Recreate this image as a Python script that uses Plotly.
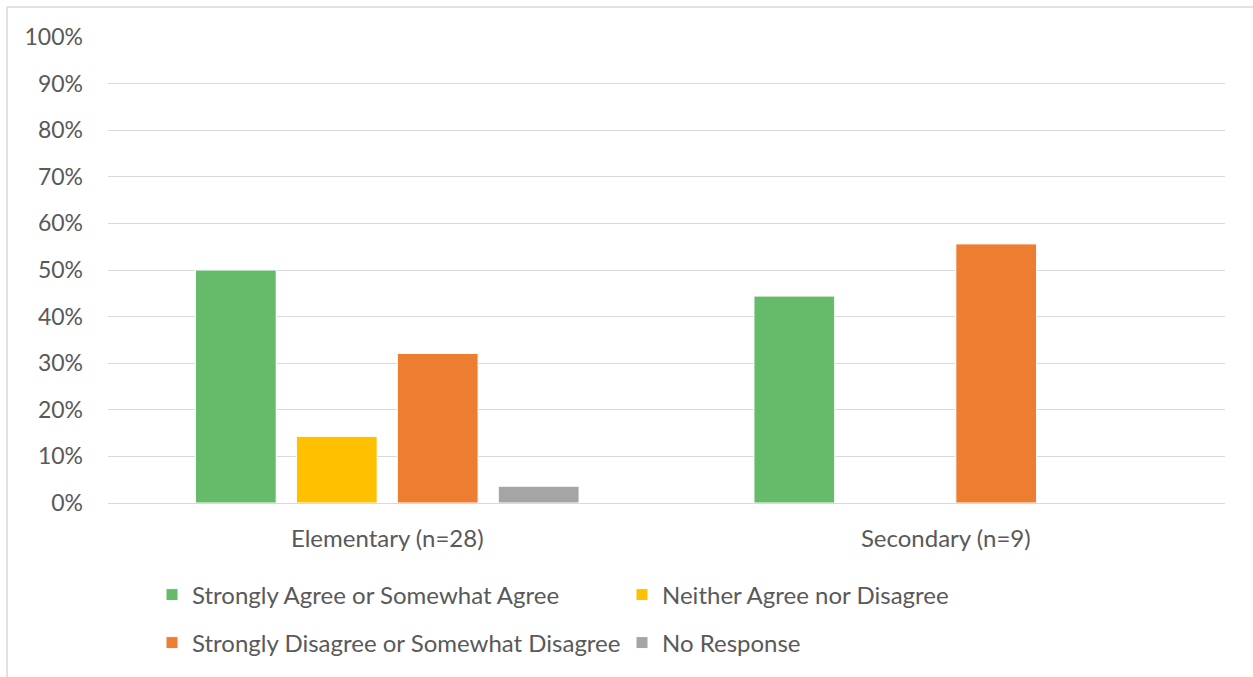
import plotly.graph_objects as go

categories = ["Elementary (n=28)", "Secondary (n=9)"]
series_names = [
    "Strongly Agree or Somewhat Agree",
    "Neither Agree nor Disagree",
    "Strongly Disagree or Somewhat Disagree",
    "No Response",
]
agree = [0.50, 0.444]
neither = [0.143, 0.0]
disagree = [0.321, 0.556]
no_response = [0.036, 0.0]
y_ticks = [0, 0.1, 0.2, 0.3, 0.4, 0.5, 0.6, 0.7, 0.8, 0.9, 1.0]
y_tick_labels = ["0%", "10%", "20%", "30%", "40%", "50%", "60%", "70%", "80%", "90%", "100%"]

colors = ["#66BB6A", "#FFC000", "#ED7D31", "#A5A5A5"]
values = [agree, neither, disagree, no_response]
legends = ["legend", "legend", "legend2", "legend2"]

W, H = 1253, 677
ml, mr, mt, mb = 108, 28, 37, 174
pw = W - ml - mr
ph = H - mt - mb

def px_x(p):
    return (p - ml) / pw

def px_y(p):
    return (H - mb - p) / ph

font_family = "Lato, 'Open Sans', sans-serif"
text_color = "#595959"
fs = 24

fig = go.Figure()
for name, vals, col, lg in zip(series_names, values, colors, legends):
    fig.add_trace(go.Bar(
        x=categories, y=vals, name=name,
        marker=dict(color=col, line=dict(color="white", width=1)),
        legend=lg,
        hovertemplate="%{x}<br>%{y:.1%}<extra>" + name + "</extra>",
    ))

legend_common = dict(
    orientation="h",
    xanchor="left",
    yanchor="middle",
    font=dict(family=font_family, size=fs, color=text_color),
    entrywidth=425,
    entrywidthmode="pixels",
    bgcolor="rgba(0,0,0,0)",
    itemclick=False,
)

fig.update_layout(
    width=W, height=H,
    margin=dict(l=ml, r=mr, t=mt, b=mb),
    paper_bgcolor="white",
    plot_bgcolor="white",
    barmode="group",
    bargap=0.277,
    bargroupgap=0.2,
    font=dict(family=font_family, size=fs, color=text_color),
    xaxis=dict(
        showgrid=False, showline=False, zeroline=False,
        tickfont=dict(family=font_family, size=fs, color=text_color),
        ticklabelstandoff=19,
    ),
    yaxis=dict(
        range=[0, 1.0],
        tickvals=y_ticks, ticktext=y_tick_labels,
        showgrid=True, gridcolor="#D9D9D9", gridwidth=1,
        zeroline=True, zerolinecolor="#D9D9D9", zerolinewidth=1,
        showline=False,
        tickfont=dict(family=font_family, size=23, color=text_color),
        ticklabelstandoff=24,
    ),
    legend=dict(x=px_x(152), y=px_y(595), **legend_common),
    legend2=dict(x=px_x(152), y=px_y(643), **legend_common),
    showlegend=True,
)

# chart-area border (left and top edges visible in the reference)
fig.add_shape(type="line", xref="paper", yref="paper",
              x0=px_x(7), x1=px_x(7), y0=px_y(7), y1=px_y(H + 5),
              line=dict(color="#D9D9D9", width=1.5))
fig.add_shape(type="line", xref="paper", yref="paper",
              x0=px_x(7), x1=px_x(W + 5), y0=px_y(7), y1=px_y(7),
              line=dict(color="#D9D9D9", width=1.5))

fig.write_html("out.html")
